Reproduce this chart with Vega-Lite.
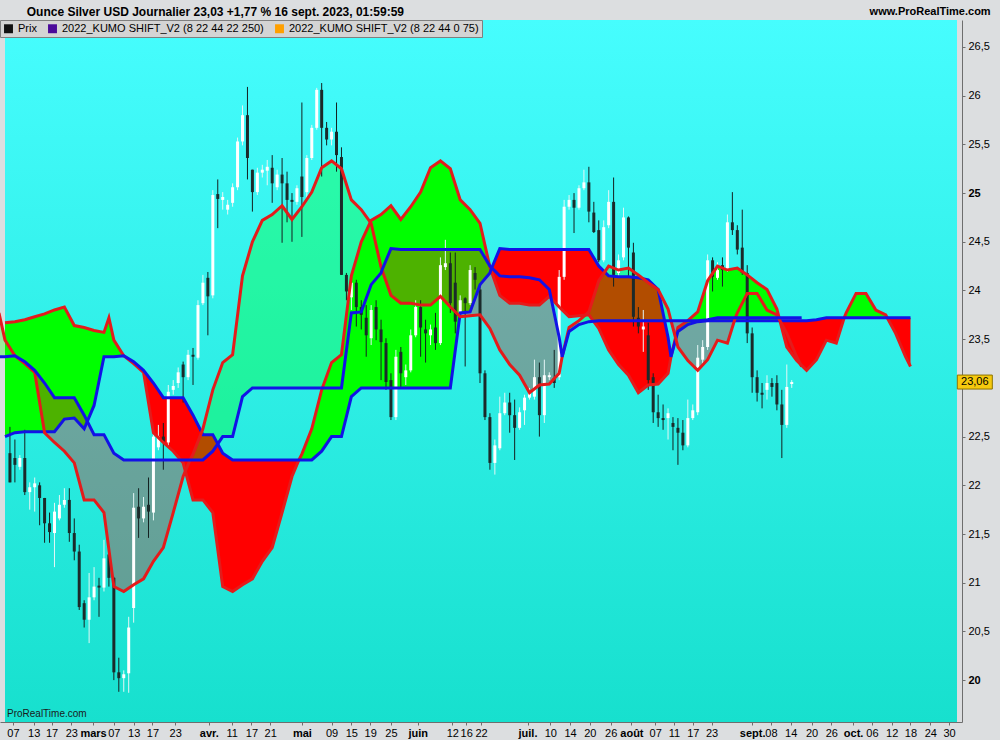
{
"$schema": "https://vega.github.io/schema/vega-lite/v6.json",
"width": 962,
"height": 702,
"autosize": {"type": "none"},
"padding": {"left": 0, "top": 20, "right": 38, "bottom": 18},
"background": "#DCDEE0",
"config": {
  "font": "Liberation Sans",
  "view": {"stroke": null},
  "axis": {"labelFont": "Liberation Sans", "labelFontSize": 11, "labelColor": "#000000", "grid": false, "domainColor": "#6E6E6E", "tickColor": "#6E6E6E", "tickSize": 3, "title": null, "labelOverlap": false},
  "axisX": {"labelOverlap": false, "labelFlush": false}
},
"datasets": {
"kumo": [
{"t":-22,"ts":0,"a":23.67,"b":22.50,"seg":1,"dir":"up"},
{"t":-20,"ts":2,"a":23.68,"b":22.54,"seg":1,"dir":"up"},
{"t":-18,"ts":4,"a":23.70,"b":22.55,"seg":1,"dir":"up"},
{"t":-16,"ts":6,"a":23.73,"b":22.55,"seg":1,"dir":"up"},
{"t":-14,"ts":8,"a":23.76,"b":22.55,"seg":1,"dir":"up"},
{"t":-12,"ts":10,"a":23.80,"b":22.55,"seg":1,"dir":"up"},
{"t":-10,"ts":12,"a":23.83,"b":22.68,"seg":1,"dir":"up"},
{"t":-8,"ts":14,"a":23.64,"b":22.69,"seg":1,"dir":"up"},
{"t":-6,"ts":16,"a":23.62,"b":22.58,"seg":1,"dir":"up"},
{"t":-4,"ts":18,"a":23.59,"b":22.82,"seg":1,"dir":"up"},
{"t":-2,"ts":20,"a":23.57,"b":23.32,"seg":1,"dir":"up"},
{"t":-1,"ts":21,"a":23.72,"b":23.32,"seg":1,"dir":"up"},
{"t":0,"ts":22,"a":23.49,"b":23.32,"seg":1,"dir":"up"},
{"t":2,"ts":24,"a":23.33,"b":23.33,"seg":1,"dir":"up"},
{"t":2,"ts":24,"a":23.33,"b":23.33,"seg":2,"dir":"down"},
{"t":4,"ts":26,"a":23.25,"b":23.27,"seg":2,"dir":"down"},
{"t":6,"ts":28,"a":23.16,"b":23.18,"seg":2,"dir":"down"},
{"t":8,"ts":30,"a":22.54,"b":23.05,"seg":2,"dir":"down"},
{"t":10,"ts":32,"a":22.44,"b":22.90,"seg":2,"dir":"down"},
{"t":12,"ts":34,"a":22.35,"b":22.90,"seg":2,"dir":"down"},
{"t":14,"ts":36,"a":22.23,"b":22.90,"seg":2,"dir":"down"},
{"t":16,"ts":38,"a":21.85,"b":22.72,"seg":2,"dir":"down"},
{"t":18,"ts":40,"a":21.85,"b":22.52,"seg":2,"dir":"down"},
{"t":20,"ts":42,"a":21.72,"b":22.52,"seg":2,"dir":"down"},
{"t":22,"ts":44,"a":20.96,"b":22.33,"seg":2,"dir":"down"},
{"t":24,"ts":46,"a":20.91,"b":22.26,"seg":2,"dir":"down"},
{"t":26,"ts":48,"a":20.98,"b":22.26,"seg":2,"dir":"down"},
{"t":28,"ts":50,"a":21.04,"b":22.26,"seg":2,"dir":"down"},
{"t":30,"ts":52,"a":21.22,"b":22.26,"seg":2,"dir":"down"},
{"t":32,"ts":54,"a":21.36,"b":22.26,"seg":2,"dir":"down"},
{"t":34,"ts":56,"a":21.72,"b":22.26,"seg":2,"dir":"down"},
{"t":36,"ts":58,"a":22.09,"b":22.26,"seg":2,"dir":"down"},
{"t":37.4,"ts":59.4,"a":22.26,"b":22.26,"seg":2,"dir":"down"},
{"t":37.4,"ts":59.4,"a":22.26,"b":22.26,"seg":3,"dir":"up"},
{"t":38,"ts":60,"a":22.32,"b":22.26,"seg":3,"dir":"up"},
{"t":40,"ts":62,"a":22.58,"b":22.26,"seg":3,"dir":"up"},
{"t":42,"ts":64,"a":22.98,"b":22.35,"seg":3,"dir":"up"},
{"t":44,"ts":66,"a":23.26,"b":22.50,"seg":3,"dir":"up"},
{"t":46,"ts":68,"a":23.34,"b":22.50,"seg":3,"dir":"up"},
{"t":48,"ts":70,"a":24.15,"b":22.91,"seg":3,"dir":"up"},
{"t":50,"ts":72,"a":24.50,"b":23.00,"seg":3,"dir":"up"},
{"t":52,"ts":74,"a":24.72,"b":23.00,"seg":3,"dir":"up"},
{"t":54,"ts":76,"a":24.78,"b":23.00,"seg":3,"dir":"up"},
{"t":56,"ts":78,"a":24.87,"b":23.00,"seg":3,"dir":"up"},
{"t":58,"ts":80,"a":24.73,"b":23.00,"seg":3,"dir":"up"},
{"t":60,"ts":82,"a":24.86,"b":23.00,"seg":3,"dir":"up"},
{"t":62,"ts":84,"a":25.01,"b":23.00,"seg":3,"dir":"up"},
{"t":64,"ts":86,"a":25.26,"b":23.00,"seg":3,"dir":"up"},
{"t":66,"ts":88,"a":25.33,"b":23.00,"seg":3,"dir":"up"},
{"t":68,"ts":90,"a":25.25,"b":23.00,"seg":3,"dir":"up"},
{"t":70,"ts":92,"a":24.93,"b":23.77,"seg":3,"dir":"up"},
{"t":72,"ts":94,"a":24.83,"b":23.78,"seg":3,"dir":"up"},
{"t":74,"ts":96,"a":24.69,"b":24.06,"seg":3,"dir":"up"},
{"t":76,"ts":98,"a":24.24,"b":24.18,"seg":3,"dir":"up"},
{"t":76.2,"ts":98.2,"a":24.21,"b":24.21,"seg":3,"dir":"up"},
{"t":76.2,"ts":98.2,"a":24.21,"b":24.21,"seg":4,"dir":"down"},
{"t":78,"ts":100,"a":23.95,"b":24.43,"seg":4,"dir":"down"},
{"t":80,"ts":102,"a":23.87,"b":24.42,"seg":4,"dir":"down"},
{"t":82,"ts":104,"a":23.87,"b":24.42,"seg":4,"dir":"down"},
{"t":84,"ts":106,"a":23.85,"b":24.42,"seg":4,"dir":"down"},
{"t":86,"ts":108,"a":23.85,"b":24.42,"seg":4,"dir":"down"},
{"t":88,"ts":110,"a":23.94,"b":24.42,"seg":4,"dir":"down"},
{"t":90,"ts":112,"a":23.83,"b":24.42,"seg":4,"dir":"down"},
{"t":92,"ts":114,"a":23.73,"b":24.42,"seg":4,"dir":"down"},
{"t":94,"ts":116,"a":23.74,"b":24.42,"seg":4,"dir":"down"},
{"t":96,"ts":118,"a":23.75,"b":24.42,"seg":4,"dir":"down"},
{"t":98,"ts":120,"a":23.61,"b":24.25,"seg":4,"dir":"down"},
{"t":100,"ts":122,"a":23.39,"b":24.15,"seg":4,"dir":"down"},
{"t":102,"ts":124,"a":23.24,"b":24.14,"seg":4,"dir":"down"},
{"t":104,"ts":126,"a":23.13,"b":24.14,"seg":4,"dir":"down"},
{"t":106,"ts":128,"a":22.95,"b":24.13,"seg":4,"dir":"down"},
{"t":108,"ts":130,"a":23.03,"b":24.11,"seg":4,"dir":"down"},
{"t":110,"ts":132,"a":23.04,"b":24.01,"seg":4,"dir":"down"},
{"t":112,"ts":134,"a":23.15,"b":23.52,"seg":4,"dir":"down"},
{"t":112.6,"ts":134.6,"a":23.32,"b":23.32,"seg":4,"dir":"down"},
{"t":112.6,"ts":134.6,"a":23.32,"b":23.32,"seg":5,"dir":"up"},
{"t":114,"ts":136,"a":23.62,"b":23.58,"seg":5,"dir":"up"},
{"t":116,"ts":138,"a":23.69,"b":23.65,"seg":5,"dir":"up"},
{"t":118,"ts":140,"a":23.78,"b":23.68,"seg":5,"dir":"up"},
{"t":120,"ts":142,"a":24.10,"b":23.69,"seg":5,"dir":"up"},
{"t":122,"ts":144,"a":24.25,"b":23.69,"seg":5,"dir":"up"},
{"t":124,"ts":146,"a":24.21,"b":23.69,"seg":5,"dir":"up"},
{"t":126,"ts":148,"a":24.23,"b":23.69,"seg":5,"dir":"up"},
{"t":128,"ts":150,"a":24.16,"b":23.69,"seg":5,"dir":"up"},
{"t":130,"ts":152,"a":24.08,"b":23.69,"seg":5,"dir":"up"},
{"t":132,"ts":154,"a":24.01,"b":23.69,"seg":5,"dir":"up"},
{"t":134,"ts":156,"a":23.81,"b":23.69,"seg":5,"dir":"up"},
{"t":134.6,"ts":156.6,"a":23.69,"b":23.69,"seg":5,"dir":"up"},
{"t":134.6,"ts":156.6,"a":23.69,"b":23.69,"seg":6,"dir":"down"},
{"t":136,"ts":158,"a":23.42,"b":23.69,"seg":6,"dir":"down"},
{"t":138,"ts":160,"a":23.28,"b":23.69,"seg":6,"dir":"down"},
{"t":140,"ts":162,"a":23.18,"b":23.69,"seg":6,"dir":"down"},
{"t":142,"ts":164,"a":23.29,"b":23.70,"seg":6,"dir":"down"},
{"t":144,"ts":166,"a":23.49,"b":23.72,"seg":6,"dir":"down"},
{"t":146,"ts":168,"a":23.46,"b":23.72,"seg":6,"dir":"down"},
{"t":147.6,"ts":169.6,"a":23.72,"b":23.72,"seg":6,"dir":"down"},
{"t":147.6,"ts":169.6,"a":23.72,"b":23.72,"seg":7,"dir":"up"},
{"t":148,"ts":170,"a":23.77,"b":23.72,"seg":7,"dir":"up"},
{"t":150,"ts":172,"a":23.97,"b":23.72,"seg":7,"dir":"up"},
{"t":152,"ts":174,"a":23.97,"b":23.72,"seg":7,"dir":"up"},
{"t":154,"ts":176,"a":23.80,"b":23.72,"seg":7,"dir":"up"},
{"t":156,"ts":178,"a":23.75,"b":23.72,"seg":7,"dir":"up"},
{"t":156.3,"ts":178.3,"a":23.72,"b":23.72,"seg":7,"dir":"up"},
{"t":156.3,"ts":178.3,"a":23.72,"b":23.72,"seg":8,"dir":"down"},
{"t":158,"ts":180,"a":23.56,"b":23.72,"seg":8,"dir":"down"},
{"t":160,"ts":182,"a":23.32,"b":23.72,"seg":8,"dir":"down"},
{"t":161,"ts":183,"a":23.22,"b":23.72,"seg":8,"dir":"down"}
],
"candles": [
{"t":1,"o":22.33,"h":22.60,"l":22.03,"c":22.03},
{"t":2,"o":22.28,"h":22.47,"l":22.03,"c":22.21},
{"t":3,"o":22.19,"h":22.31,"l":22.16,"c":22.28},
{"t":4,"o":22.28,"h":22.57,"l":21.90,"c":21.93},
{"t":5,"o":21.93,"h":22.03,"l":21.75,"c":21.98},
{"t":6,"o":21.98,"h":22.08,"l":21.73,"c":22.02},
{"t":7,"o":22.00,"h":22.03,"l":21.59,"c":21.87},
{"t":8,"o":21.87,"h":21.87,"l":21.41,"c":21.61},
{"t":9,"o":21.61,"h":21.72,"l":21.41,"c":21.52},
{"t":10,"o":21.51,"h":21.82,"l":21.16,"c":21.73},
{"t":11,"o":21.66,"h":21.90,"l":21.64,"c":21.80},
{"t":12,"o":21.80,"h":21.97,"l":21.77,"c":21.85},
{"t":13,"o":21.85,"h":21.97,"l":21.42,"c":21.51},
{"t":14,"o":21.51,"h":21.66,"l":21.23,"c":21.32},
{"t":15,"o":21.32,"h":21.39,"l":20.72,"c":20.75},
{"t":16,"o":20.79,"h":20.82,"l":20.54,"c":20.62},
{"t":17,"o":20.62,"h":21.10,"l":20.38,"c":20.85},
{"t":18,"o":20.85,"h":21.16,"l":20.82,"c":20.96},
{"t":19,"o":20.97,"h":21.05,"l":20.65,"c":20.95},
{"t":20,"o":20.95,"h":21.44,"l":20.91,"c":21.25},
{"t":21,"o":21.29,"h":21.31,"l":20.96,"c":21.05},
{"t":22,"o":21.05,"h":21.06,"l":20.00,"c":20.08},
{"t":23,"o":20.08,"h":20.23,"l":19.88,"c":20.02},
{"t":24,"o":20.02,"h":20.10,"l":19.88,"c":20.06},
{"t":25,"o":20.07,"h":20.65,"l":19.87,"c":20.54},
{"t":26,"o":20.74,"h":21.92,"l":20.59,"c":21.77},
{"t":27,"o":21.78,"h":21.97,"l":21.46,"c":21.66},
{"t":28,"o":21.66,"h":21.88,"l":21.62,"c":21.78},
{"t":29,"o":21.80,"h":22.08,"l":21.46,"c":21.73},
{"t":30,"o":21.72,"h":22.57,"l":21.64,"c":22.50},
{"t":31,"o":22.39,"h":22.62,"l":22.36,"c":22.50},
{"t":32,"o":22.50,"h":22.64,"l":22.16,"c":22.44},
{"t":33,"o":22.44,"h":23.03,"l":22.39,"c":22.96},
{"t":34,"o":22.98,"h":23.08,"l":22.93,"c":23.02},
{"t":35,"o":23.05,"h":23.21,"l":23.00,"c":23.16},
{"t":36,"o":23.24,"h":23.27,"l":22.85,"c":23.11},
{"t":37,"o":23.11,"h":23.39,"l":23.08,"c":23.34},
{"t":38,"o":23.34,"h":23.41,"l":23.03,"c":23.32},
{"t":39,"o":23.31,"h":23.90,"l":23.29,"c":23.85},
{"t":40,"o":23.87,"h":24.16,"l":23.85,"c":24.08},
{"t":41,"o":24.13,"h":24.19,"l":23.54,"c":23.94},
{"t":42,"o":23.95,"h":25.03,"l":23.92,"c":24.98},
{"t":43,"o":24.99,"h":25.14,"l":24.64,"c":24.94},
{"t":44,"o":24.93,"h":25.01,"l":24.83,"c":24.96},
{"t":45,"o":24.83,"h":24.93,"l":24.78,"c":24.88},
{"t":46,"o":24.90,"h":25.10,"l":24.86,"c":25.06},
{"t":47,"o":25.06,"h":25.57,"l":25.03,"c":25.53},
{"t":48,"o":25.53,"h":25.90,"l":25.49,"c":25.80},
{"t":49,"o":25.80,"h":26.09,"l":25.14,"c":25.36},
{"t":50,"o":25.24,"h":25.24,"l":24.81,"c":25.01},
{"t":51,"o":25.01,"h":25.26,"l":24.98,"c":25.21},
{"t":52,"o":25.21,"h":25.29,"l":25.16,"c":25.24},
{"t":53,"o":25.23,"h":25.34,"l":25.08,"c":25.27},
{"t":54,"o":25.26,"h":25.39,"l":24.90,"c":25.10},
{"t":55,"o":25.06,"h":25.24,"l":25.03,"c":25.19},
{"t":56,"o":25.19,"h":25.36,"l":24.49,"c":25.10},
{"t":57,"o":25.10,"h":25.22,"l":24.70,"c":24.93},
{"t":58,"o":24.93,"h":25.00,"l":24.50,"c":24.91},
{"t":59,"o":24.91,"h":25.08,"l":24.88,"c":25.05},
{"t":60,"o":25.17,"h":25.93,"l":24.55,"c":24.96},
{"t":61,"o":25.01,"h":25.39,"l":24.93,"c":25.36},
{"t":62,"o":25.36,"h":25.70,"l":25.34,"c":25.67},
{"t":63,"o":25.67,"h":26.08,"l":25.65,"c":26.06},
{"t":64,"o":26.06,"h":26.13,"l":25.17,"c":25.67},
{"t":65,"o":25.67,"h":25.73,"l":25.49,"c":25.55},
{"t":66,"o":25.55,"h":25.67,"l":25.49,"c":25.63},
{"t":67,"o":25.63,"h":25.93,"l":25.22,"c":25.39},
{"t":68,"o":25.37,"h":25.47,"l":24.16,"c":24.16},
{"t":69,"o":24.16,"h":24.18,"l":23.90,"c":23.99},
{"t":70,"o":23.93,"h":24.11,"l":23.80,"c":24.08},
{"t":71,"o":24.08,"h":24.11,"l":23.63,"c":23.83},
{"t":72,"o":23.83,"h":23.90,"l":23.60,"c":23.75},
{"t":73,"o":23.72,"h":23.85,"l":23.32,"c":23.54},
{"t":74,"o":23.51,"h":23.85,"l":23.44,"c":23.80},
{"t":75,"o":23.83,"h":23.90,"l":23.49,"c":23.60},
{"t":76,"o":23.60,"h":23.70,"l":23.08,"c":23.47},
{"t":77,"o":23.46,"h":23.51,"l":22.98,"c":23.06},
{"t":78,"o":23.08,"h":23.15,"l":22.67,"c":22.70},
{"t":79,"o":22.70,"h":23.39,"l":22.67,"c":23.32},
{"t":80,"o":23.37,"h":23.42,"l":23.01,"c":23.15},
{"t":81,"o":23.11,"h":23.24,"l":23.03,"c":23.18},
{"t":82,"o":23.18,"h":23.60,"l":23.16,"c":23.54},
{"t":83,"o":23.54,"h":23.90,"l":23.52,"c":23.83},
{"t":84,"o":23.83,"h":23.90,"l":23.32,"c":23.62},
{"t":85,"o":23.60,"h":23.70,"l":23.26,"c":23.56},
{"t":86,"o":23.54,"h":23.65,"l":23.44,"c":23.60},
{"t":87,"o":23.62,"h":23.77,"l":23.39,"c":23.46},
{"t":88,"o":23.46,"h":24.34,"l":23.44,"c":24.26},
{"t":89,"o":24.24,"h":24.52,"l":24.21,"c":24.28},
{"t":90,"o":24.28,"h":24.39,"l":23.77,"c":23.87},
{"t":91,"o":24.08,"h":24.39,"l":23.56,"c":23.68},
{"t":92,"o":23.77,"h":23.95,"l":23.72,"c":23.90},
{"t":93,"o":23.92,"h":23.93,"l":23.22,"c":23.87},
{"t":94,"o":23.87,"h":24.26,"l":23.85,"c":24.21},
{"t":95,"o":24.18,"h":24.24,"l":24.01,"c":24.11},
{"t":96,"o":24.01,"h":24.04,"l":23.05,"c":23.15},
{"t":97,"o":23.15,"h":23.18,"l":22.67,"c":22.70},
{"t":98,"o":22.70,"h":22.74,"l":22.16,"c":22.23},
{"t":99,"o":22.23,"h":22.47,"l":22.11,"c":22.41},
{"t":100,"o":22.38,"h":22.91,"l":22.36,"c":22.74},
{"t":101,"o":22.74,"h":22.95,"l":22.72,"c":22.85},
{"t":102,"o":22.85,"h":22.95,"l":22.54,"c":22.72},
{"t":103,"o":22.72,"h":22.88,"l":22.26,"c":22.59},
{"t":104,"o":22.59,"h":22.80,"l":22.57,"c":22.75},
{"t":105,"o":22.77,"h":22.93,"l":22.62,"c":22.90},
{"t":106,"o":22.90,"h":23.00,"l":22.88,"c":22.95},
{"t":107,"o":22.91,"h":23.29,"l":22.88,"c":23.11},
{"t":108,"o":23.11,"h":23.26,"l":22.50,"c":22.72},
{"t":109,"o":22.72,"h":23.29,"l":22.64,"c":23.13},
{"t":110,"o":23.11,"h":23.16,"l":23.08,"c":23.13},
{"t":111,"o":23.10,"h":23.39,"l":23.00,"c":23.05},
{"t":112,"o":23.11,"h":24.21,"l":23.08,"c":24.14},
{"t":113,"o":24.14,"h":24.93,"l":24.11,"c":24.86},
{"t":114,"o":24.86,"h":24.98,"l":24.83,"c":24.93},
{"t":115,"o":24.93,"h":25.00,"l":24.59,"c":24.85},
{"t":116,"o":24.85,"h":25.08,"l":24.83,"c":25.05},
{"t":117,"o":25.05,"h":25.24,"l":25.03,"c":25.11},
{"t":118,"o":25.11,"h":25.27,"l":24.70,"c":24.81},
{"t":119,"o":24.80,"h":24.91,"l":24.59,"c":24.60},
{"t":120,"o":24.62,"h":24.72,"l":24.29,"c":24.31},
{"t":121,"o":24.31,"h":24.72,"l":24.29,"c":24.65},
{"t":122,"o":24.67,"h":25.03,"l":24.64,"c":24.91},
{"t":123,"o":24.91,"h":25.16,"l":24.04,"c":24.16},
{"t":124,"o":24.18,"h":24.37,"l":24.15,"c":24.31},
{"t":125,"o":24.34,"h":24.85,"l":24.31,"c":24.75},
{"t":126,"o":24.75,"h":24.76,"l":24.14,"c":24.44},
{"t":127,"o":24.39,"h":24.49,"l":23.63,"c":23.73},
{"t":128,"o":23.72,"h":23.83,"l":23.56,"c":23.63},
{"t":129,"o":23.60,"h":23.80,"l":23.37,"c":23.63},
{"t":130,"o":23.54,"h":23.67,"l":22.98,"c":23.08},
{"t":131,"o":23.11,"h":23.15,"l":22.64,"c":22.75},
{"t":132,"o":22.75,"h":22.93,"l":22.60,"c":22.69},
{"t":133,"o":22.69,"h":22.83,"l":22.57,"c":22.67},
{"t":134,"o":22.69,"h":22.79,"l":22.47,"c":22.74},
{"t":135,"o":22.64,"h":22.70,"l":22.36,"c":22.60},
{"t":136,"o":22.59,"h":22.69,"l":22.21,"c":22.54},
{"t":137,"o":22.54,"h":22.67,"l":22.36,"c":22.41},
{"t":138,"o":22.41,"h":22.88,"l":22.39,"c":22.69},
{"t":139,"o":22.69,"h":22.83,"l":22.67,"c":22.77},
{"t":140,"o":22.75,"h":23.44,"l":22.72,"c":23.31},
{"t":141,"o":23.29,"h":23.49,"l":23.24,"c":23.42},
{"t":142,"o":23.42,"h":24.37,"l":23.39,"c":24.31},
{"t":143,"o":24.31,"h":24.34,"l":23.99,"c":24.14},
{"t":144,"o":24.13,"h":24.29,"l":24.11,"c":24.21},
{"t":145,"o":24.26,"h":24.34,"l":24.04,"c":24.21},
{"t":146,"o":24.21,"h":24.78,"l":24.19,"c":24.70},
{"t":147,"o":24.70,"h":25.01,"l":24.57,"c":24.62},
{"t":148,"o":24.62,"h":24.67,"l":24.37,"c":24.42},
{"t":149,"o":24.44,"h":24.83,"l":24.16,"c":24.18},
{"t":150,"o":24.18,"h":24.26,"l":23.46,"c":23.56},
{"t":151,"o":23.56,"h":23.62,"l":22.95,"c":23.11},
{"t":152,"o":23.11,"h":23.18,"l":22.86,"c":22.95},
{"t":153,"o":22.95,"h":23.05,"l":22.79,"c":22.93},
{"t":154,"o":22.98,"h":23.13,"l":22.88,"c":23.05},
{"t":155,"o":23.05,"h":23.10,"l":22.91,"c":23.01},
{"t":156,"o":23.05,"h":23.13,"l":22.77,"c":22.83},
{"t":157,"o":22.83,"h":22.98,"l":22.28,"c":22.62},
{"t":158,"o":22.62,"h":23.24,"l":22.59,"c":23.01},
{"t":159,"o":23.04,"h":23.08,"l":23.00,"c":23.06}
],
"series": [{"name": "Prix"}, {"name": "2022_KUMO SHIFT_V2 (8 22 44 22 250)"}, {"name": "2022_KUMO SHIFT_V2 (8 22 44 0 75)"}],
"last": [{"price": 23.06, "label": "23,06"}],
"header": [{"label": "Ounce Silver USD Journalier 23,03 +1,77 % 16 sept. 2023, 01:59:59"}],
"site": [{"label": "www.ProRealTime.com"}],
"footer": [{"label": "ProRealTime.com"}]
},
"layer": [
{"data": {"values": [{"area": "plot"}]},
 "mark": {"type": "rect", "fill": {"gradient": "linear", "x1": 0, "y1": 0, "x2": 0, "y2": 1, "stops": [{"offset": 0, "color": "#46FDFE"}, {"offset": 1, "color": "#17E0CE"}]}},
 "encoding": {
  "x": {"datum": 0, "type": "quantitative", "title": null, "scale": {"domain": [0, 192.4], "nice": false, "zero": false},
        "axis": {"orient": "bottom", "title": null, "grid": false, "labelOverlap": false, "labelFlush": false, "labelPadding": 2, "tickCount": 100,
                 "values": [1.6,5.8,9.4,13.4,17.8,22,26,29.8,34.4,41.2,45.8,49.8,53.6,60,66,70,73.8,78,83.4,90.4,93.2,96.2,105.6,110.2,114.2,118.2,122.4,126.6,131.4,135.2,139,142.8,151,154.8,158.8,163,167,171.4,175.2,179.2,183,187,190.8],
                 "labelExpr": "['07','13','17','23','mars','07','13','17','23','avr.','11','17','21','mai','09','15','19','25','juin','12','16','22','juil.','10','14','20','26','août','07','11','17','23','sept.','08','14','20','26','oct.','06','12','18','24','30'][indexof([1.6,5.8,9.4,13.4,17.8,22,26,29.8,34.4,41.2,45.8,49.8,53.6,60,66,70,73.8,78,83.4,90.4,93.2,96.2,105.6,110.2,114.2,118.2,122.4,126.6,131.4,135.2,139,142.8,151,154.8,158.8,163,167,171.4,175.2,179.2,183,187,190.8], datum.value)]",
                 "labelFontWeight": {"condition": {"test": "indexof([17.8,41.2,60,83.4,105.6,126.6,151,171.4], datum.value) >= 0", "value": "bold"}, "value": "normal"}}},
  "x2": {"datum": 192.4},
  "y": {"datum": 19.57, "type": "quantitative", "title": null, "scale": {"domain": [19.57, 26.777], "nice": false, "zero": false},
        "axis": {"orient": "right", "title": null, "grid": false, "labelPadding": 3, "tickCount": 40,
                 "values": [20,20.5,21,21.5,22,22.5,23,23.5,24,24.5,25,25.5,26,26.5],
                 "labelExpr": "datum.value == 23 ? '' : replace(format(datum.value, '.1~f'), '.', ',')",
                 "labelFontWeight": {"condition": {"test": "datum.value == 20 || datum.value == 25", "value": "bold"}, "value": "normal"}}},
  "y2": {"datum": 26.777}
 }},
{"data": {"name": "kumo"}, "mark": {"type": "area", "clip": true, "opacity": 1},
 "encoding": {
  "x": {"field": "ts", "type": "quantitative", "title": null, "scale": {"domain": [0, 192.4], "nice": false, "zero": false}},
  "y": {"field": "a", "type": "quantitative", "title": null, "scale": {"domain": [19.57, 26.777], "nice": false, "zero": false}},
  "y2": {"field": "b"},
  "detail": {"field": "seg", "type": "nominal"},
  "fill": {"condition": {"test": "datum.dir === 'up'", "value": "#00FF00"}, "value": "#FF0000"}
 }},
{"data": {"name": "kumo"}, "mark": {"type": "area", "clip": true, "opacity": 0.3},
 "encoding": {
  "x": {"field": "t", "type": "quantitative", "title": null, "scale": {"domain": [0, 192.4], "nice": false, "zero": false}},
  "y": {"field": "a", "type": "quantitative", "title": null, "scale": {"domain": [19.57, 26.777], "nice": false, "zero": false}},
  "y2": {"field": "b"},
  "detail": {"field": "seg", "type": "nominal"},
  "fill": {"condition": {"test": "datum.dir === 'up'", "value": "#00FF00"}, "value": "#FF0000"}
 }},
{"data": {"name": "candles"}, "mark": {"type": "rule", "clip": true, "strokeWidth": 1},
 "encoding": {
  "x": {"field": "t", "type": "quantitative", "title": null, "scale": {"domain": [0, 192.4], "nice": false, "zero": false}},
  "y": {"field": "l", "type": "quantitative", "title": null, "scale": {"domain": [19.57, 26.777], "nice": false, "zero": false}},
  "y2": {"field": "h"},
  "color": {"condition": {"test": "datum.c >= datum.o", "value": "#E4F6F6"}, "value": "#142020"}
 }},
{"data": {"name": "candles"}, "mark": {"type": "bar", "clip": true, "width": 3},
 "encoding": {
  "x": {"field": "t", "type": "quantitative", "title": null, "scale": {"domain": [0, 192.4], "nice": false, "zero": false}},
  "y": {"field": "o", "type": "quantitative", "title": null, "scale": {"domain": [19.57, 26.777], "nice": false, "zero": false}},
  "y2": {"field": "c"},
  "color": {"condition": {"test": "datum.c >= datum.o", "value": "#FFFFFF"}, "value": "#1B2A2A"}
 }},
{"data": {"name": "kumo"}, "mark": {"type": "line", "clip": true, "color": "#E41B1B", "strokeWidth": 3},
 "encoding": {
  "x": {"field": "ts", "type": "quantitative", "title": null, "scale": {"domain": [0, 192.4], "nice": false, "zero": false}},
  "y": {"field": "a", "type": "quantitative", "title": null, "scale": {"domain": [19.57, 26.777], "nice": false, "zero": false}}
 }},
{"data": {"name": "kumo"}, "mark": {"type": "line", "clip": true, "color": "#1212E6", "strokeWidth": 3},
 "encoding": {
  "x": {"field": "ts", "type": "quantitative", "title": null, "scale": {"domain": [0, 192.4], "nice": false, "zero": false}},
  "y": {"field": "b", "type": "quantitative", "title": null, "scale": {"domain": [19.57, 26.777], "nice": false, "zero": false}}
 }},
{"data": {"name": "kumo"}, "mark": {"type": "line", "clip": true, "color": "#E41B1B", "strokeWidth": 3},
 "encoding": {
  "x": {"field": "t", "type": "quantitative", "title": null, "scale": {"domain": [0, 192.4], "nice": false, "zero": false}},
  "y": {"field": "a", "type": "quantitative", "title": null, "scale": {"domain": [19.57, 26.777], "nice": false, "zero": false}}
 }},
{"data": {"name": "kumo"}, "mark": {"type": "line", "clip": true, "color": "#1212E6", "strokeWidth": 3},
 "encoding": {
  "x": {"field": "t", "type": "quantitative", "title": null, "scale": {"domain": [0, 192.4], "nice": false, "zero": false}},
  "y": {"field": "b", "type": "quantitative", "title": null, "scale": {"domain": [19.57, 26.777], "nice": false, "zero": false}}
 }},
{"data": {"name": "last"}, "mark": {"type": "tick", "orient": "horizontal", "size": 35, "thickness": 14, "color": "#F6C90E", "stroke": "#8C7400", "strokeWidth": 1, "opacity": 1},
 "encoding": {
  "x": {"datum": 196, "type": "quantitative", "title": null, "scale": {"domain": [0, 192.4], "nice": false, "zero": false}},
  "y": {"field": "price", "type": "quantitative", "title": null, "scale": {"domain": [19.57, 26.777], "nice": false, "zero": false}}
 }},
{"data": {"name": "last"}, "mark": {"type": "text", "fontSize": 11, "font": "Liberation Sans", "color": "#000000", "align": "center", "baseline": "middle"},
 "encoding": {
  "x": {"datum": 196, "type": "quantitative", "title": null, "scale": {"domain": [0, 192.4], "nice": false, "zero": false}},
  "y": {"field": "price", "type": "quantitative", "title": null, "scale": {"domain": [19.57, 26.777], "nice": false, "zero": false}},
  "text": {"field": "label"}
 }},
{"data": {"name": "header"}, "mark": {"type": "text", "fontSize": 12, "fontWeight": "bold", "font": "Liberation Sans", "color": "#000000", "align": "left", "baseline": "middle"},
 "encoding": {
  "x": {"datum": 4.4, "type": "quantitative", "title": null, "scale": {"domain": [0, 192.4], "nice": false, "zero": false}},
  "y": {"datum": 26.86, "type": "quantitative", "title": null, "scale": {"domain": [19.57, 26.777], "nice": false, "zero": false}},
  "text": {"field": "label"}
 }},
{"data": {"name": "site"}, "mark": {"type": "text", "fontSize": 11, "fontWeight": "bold", "font": "Liberation Sans", "color": "#000000", "align": "right", "baseline": "middle"},
 "encoding": {
  "x": {"datum": 199.2, "type": "quantitative", "title": null, "scale": {"domain": [0, 192.4], "nice": false, "zero": false}},
  "y": {"datum": 26.86, "type": "quantitative", "title": null, "scale": {"domain": [19.57, 26.777], "nice": false, "zero": false}},
  "text": {"field": "label"}
 }},
{"data": {"name": "footer"}, "mark": {"type": "text", "fontSize": 10, "font": "Liberation Sans", "color": "#1A1A1A", "align": "left", "baseline": "middle"},
 "encoding": {
  "x": {"datum": 0.4, "type": "quantitative", "title": null, "scale": {"domain": [0, 192.4], "nice": false, "zero": false}},
  "y": {"datum": 19.65, "type": "quantitative", "title": null, "scale": {"domain": [19.57, 26.777], "nice": false, "zero": false}},
  "text": {"field": "label"}
 }},
{"data": {"name": "series"}, "mark": {"type": "square", "opacity": 0, "size": 10},
 "encoding": {
  "color": {"field": "name", "type": "nominal",
            "scale": {"domain": ["Prix", "2022_KUMO SHIFT_V2 (8 22 44 22 250)", "2022_KUMO SHIFT_V2 (8 22 44 0 75)"], "range": ["#111111", "#4A0A9A", "#FFA000"]},
            "legend": {"orient": "top-left", "direction": "horizontal", "title": null, "offset": 0, "padding": 3, "fillColor": "#D4D4D4", "strokeColor": "#7F7F7F",
                       "labelFontSize": 11, "labelFont": "Liberation Sans", "labelColor": "#000000", "symbolType": "square", "symbolSize": 80, "symbolOpacity": 1,
                       "symbolStrokeWidth": 0, "columnPadding": 10, "labelLimit": 400}}
 }}
]
}
